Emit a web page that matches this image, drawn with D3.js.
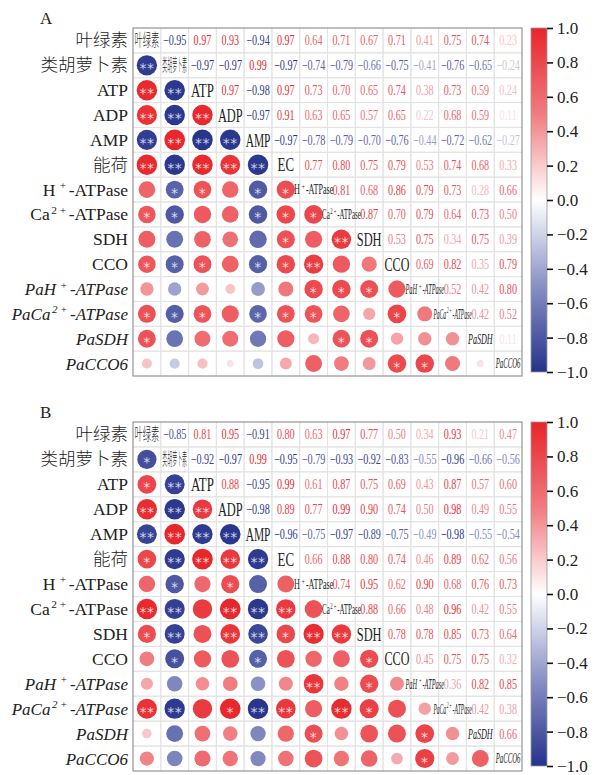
<!DOCTYPE html>
<html>
<head>
<meta charset="utf-8">
<script src="https://cdn.jsdelivr.net/npm/d3@7"></script>
<style>
  body { margin: 0; background: #fff; }
  text { font-family: "Liberation Serif", "Times New Roman", "Noto Sans CJK SC", serif; fill: #222; }
</style>
</head>
<body>
<svg id="chart" width="600" height="775"></svg>
<script>
// variable names; {..} marks a superscript
const labels = ['叶绿素', '类胡萝卜素', 'ATP', 'ADP', 'AMP', '能荷', 'H{+}-ATPase', 'Ca{2+}-ATPase',
    'SDH', 'CCO', 'PaH{+}-ATPase', 'PaCa{2+}-ATPase', 'PaSDH', 'PaCCO6'];
const diagLabels = ['叶绿素', '类胡萝卜素', 'ATP', 'ADP', 'AMP', 'EC', 'H{+}-ATPase', 'Ca{2+}-ATPase',
    'SDH', 'CCO', 'PaH{+}-ATPase', 'PaCa{2+}-ATPase', 'PaSDH', 'PaCCO6'];
const italicFrom = 10;

// upper triangle, row i holds columns i+1 .. 13
const corrA = [
    [-0.95, 0.97, 0.93, -0.94, 0.97, 0.64, 0.71, 0.67, 0.71, 0.41, 0.75, 0.74, 0.23],
    [-0.97, -0.97, 0.99, -0.97, -0.74, -0.79, -0.66, -0.75, -0.41, -0.76, -0.65, -0.24],
    [0.97, -0.98, 0.97, 0.73, 0.70, 0.65, 0.74, 0.38, 0.73, 0.59, 0.24],
    [-0.97, 0.91, 0.63, 0.65, 0.57, 0.65, 0.22, 0.68, 0.59, 0.11],
    [-0.97, -0.78, -0.79, -0.70, -0.76, -0.44, -0.72, -0.62, -0.27],
    [0.77, 0.80, 0.75, 0.79, 0.53, 0.74, 0.68, 0.33],
    [0.81, 0.68, 0.86, 0.79, 0.73, 0.28, 0.66],
    [0.87, 0.70, 0.79, 0.64, 0.73, 0.50],
    [0.53, 0.75, 0.34, 0.75, 0.39],
    [0.69, 0.82, 0.35, 0.79],
    [0.52, 0.42, 0.80],
    [0.42, 0.52],
    [0.11]
];
const corrB = [
    [-0.85, 0.81, 0.95, -0.91, 0.80, 0.63, 0.97, 0.77, 0.50, 0.34, 0.93, 0.21, 0.47],
    [-0.92, -0.97, 0.99, -0.95, -0.79, -0.93, -0.92, -0.83, -0.55, -0.96, -0.66, -0.56],
    [0.88, -0.95, 0.99, 0.61, 0.87, 0.75, 0.69, 0.43, 0.87, 0.57, 0.60],
    [-0.98, 0.89, 0.77, 0.99, 0.90, 0.74, 0.50, 0.98, 0.49, 0.55],
    [-0.96, -0.75, -0.97, -0.89, -0.75, -0.49, -0.98, -0.55, -0.54],
    [0.66, 0.88, 0.80, 0.74, 0.46, 0.89, 0.62, 0.56],
    [0.74, 0.95, 0.62, 0.90, 0.68, 0.76, 0.73],
    [0.88, 0.66, 0.48, 0.96, 0.42, 0.55],
    [0.78, 0.78, 0.85, 0.73, 0.64],
    [0.45, 0.75, 0.75, 0.32],
    [0.36, 0.82, 0.85],
    [0.42, 0.38],
    [0.66]
];

// significance marks, lower triangle, row i holds columns 0 .. i-1
const starsA = [
    [],
    ['**'],
    ['**', '**'],
    ['**', '**', '**'],
    ['**', '**', '**', '**'],
    ['**', '**', '**', '**', '**'],
    ['', '*', '*', '', '*', '*'],
    ['*', '*', '', '', '*', '*', '*'],
    ['', '', '', '', '', '*', '', '**'],
    ['*', '*', '*', '', '*', '*', '**', '', ''],
    ['', '', '', '', '', '', '*', '*', '*', ''],
    ['*', '*', '*', '', '*', '*', '*', '', '', '*', ''],
    ['*', '', '', '', '', '', '', '*', '*', '', '', ''],
    ['', '', '', '', '', '', '', '', '', '*', '*', '', '']
];
const starsB = [
    [],
    ['*'],
    ['*', '**'],
    ['**', '**', '**'],
    ['**', '**', '**', '**'],
    ['*', '**', '**', '**', '**'],
    ['', '*', '', '*', '', ''],
    ['**', '**', '', '**', '**', '**', ''],
    ['*', '**', '', '**', '**', '*', '**', '**'],
    ['', '*', '', '', '*', '', '', '', '*'],
    ['', '', '', '', '', '', '**', '', '*', ''],
    ['**', '**', '', '*', '**', '**', '', '**', '*', '', ''],
    ['', '', '', '', '', '', '*', '', '', '', '*', ''],
    ['', '', '', '', '', '', '', '', '', '', '*', '', '']
];

const colorTicks = [1.0, 0.8, 0.6, 0.4, 0.2, 0.0, -0.2, -0.4, -0.6, -0.8, -1.0];

const panels = [
    {name: 'A', corr: corrA, stars: starsA, top: 28, bottom: 376, barBottom: 372},
    {name: 'B', corr: corrB, stars: starsB, top: 422, bottom: 771, barBottom: 766}
];

const gridLeft = 133;
const gridRight = 522;
const n = labels.length;
const isCjk = s => /[\u4e00-\u9fff]/.test(s);

const svg = d3.select('#chart');

const color = d3.scaleLinear()
    .domain([-1, -0.5, 0, 0.5, 1])
    .range(['#25328b', '#8890c4', '#ffffff', '#f07c80', '#e8252a']);

const radius = d3.scaleSqrt().domain([0, 1]).range([0, 10.4]);

// full symmetric matrix from upper triangle
const fullMatrix = (upper) => {
    const m = d3.range(n).map(() => new Array(n).fill(1));
    upper.forEach((row, i) => row.forEach((v, k) => {
        const j = i + 1 + k;
        m[i][j] = v;
        m[j][i] = v;
    }));
    return m;
};

// writes a label with {..} superscripts into a text element
const writeLabel = (textSel, str, size) => {
    const parts = str.split(/\{([^}]*)\}/);
    const supSize = size * 0.65;
    const shift = size * 0.38;
    let pendingDx = 0;
    let shifted = false;
    parts.forEach((part, k) => {
        if (!part) return;
        if (k % 2 === 1) {
            // superscript, one tspan per char so '+' gets a little room
            part.split('').forEach((c, ci) => {
                const t = textSel.append('tspan').text(c).attr('font-size', supSize);
                let dx = ci === 0 ? size * 0.09 : 0;
                if (c === '+') dx += size * 0.15;
                t.attr('dx', dx);
                if (ci === 0) t.attr('dy', -shift);
                pendingDx = c === '+' ? size * 0.15 : 0;
            });
            shifted = true;
        } else {
            const t = textSel.append('tspan').text(part);
            if (shifted) {
                t.attr('dy', shift).attr('dx', pendingDx);
                shifted = false;
            }
        }
    });
};

const drawPanel = (p) => {
    const m = fullMatrix(p.corr);
    const x = d3.scaleBand().domain(d3.range(n)).range([gridLeft, gridRight]);
    const y = d3.scaleBand().domain(d3.range(n)).range([p.top, p.bottom]);
    const cw = x.bandwidth();
    const ch = y.bandwidth();

    const g = svg.append('g').attr('class', 'panel-' + p.name);

    // panel letter
    g.append('text')
        .attr('x', 40)
        .attr('y', p.top - 4)
        .attr('font-size', 17)
        .text(p.name);

    // cell grid
    const cells = [];
    d3.range(n).forEach(i => d3.range(n).forEach(j => cells.push({i, j, v: m[i][j]})));

    g.append('g').selectAll('rect')
        .data(cells)
        .join('rect')
        .attr('x', d => x(d.j))
        .attr('y', d => y(d.i))
        .attr('width', cw)
        .attr('height', ch)
        .attr('fill', 'none')
        .attr('stroke', '#e3e3e3')
        .attr('stroke-width', 1);

    g.append('rect')
        .attr('x', gridLeft)
        .attr('y', p.top)
        .attr('width', gridRight - gridLeft)
        .attr('height', p.bottom - p.top)
        .attr('fill', 'none')
        .attr('stroke', '#8c8c8c')
        .attr('stroke-width', 1);

    // row labels on the left
    labels.forEach((lab, i) => {
        const italic = i >= italicFrom;
        const size = italic ? 17 : 17.5;
        const t = g.append('text')
            .attr('x', gridLeft - 5)
            .attr('y', y(i) + ch / 2 + 6)
            .attr('text-anchor', 'end')
            .attr('font-size', size)
            .style('font-weight', isCjk(lab) ? 300 : 400)
            .attr('font-style', italic ? 'italic' : 'normal');
        writeLabel(t, lab, size);
    });

    // lower triangle: circles
    const lower = cells.filter(d => d.j < d.i);
    g.append('g').selectAll('circle')
        .data(lower)
        .join('circle')
        .attr('cx', d => x(d.j) + cw / 2)
        .attr('cy', d => y(d.i) + ch / 2)
        .attr('r', d => radius(Math.abs(d.v)))
        .attr('fill', d => color(d.v));

    g.append('g').selectAll('text')
        .data(lower.filter(d => p.stars[d.i][d.j]))
        .join('text')
        .attr('x', d => x(d.j) + cw / 2)
        .attr('y', d => y(d.i) + ch / 2 + 8)
        .attr('text-anchor', 'middle')
        .style('font-family', '"DejaVu Sans", sans-serif')
        .style('font-size', '14px')
        .style('letter-spacing', '0.5px')
        .style('fill', 'rgba(255,255,255,0.78)')
        .text(d => p.stars[d.i][d.j]);

    // upper triangle: numbers, squeezed horizontally
    const upper = cells.filter(d => d.j > d.i);
    g.append('g').selectAll('text')
        .data(upper)
        .join('text')
        .attr('transform', d => `translate(${x(d.j) + cw / 2},${y(d.i) + ch / 2 + 5}) scale(0.7,1)`)
        .attr('text-anchor', 'middle')
        .attr('font-size', 14.5)
        .style('fill', d => color(d.v))
        .text(d => d3.format('.2f')(d.v));

    // diagonal names
    diagLabels.forEach((lab, i) => {
        const cjk = isCjk(lab);
        const short = lab.length <= 3 && !cjk;
        const size = short ? 19 : (cjk ? 17 : 14);
        const cell = g.append('g');
        const t = cell.append('text')
            .attr('text-anchor', 'middle')
            .attr('y', size * 0.35)
            .attr('font-size', size)
            .style('font-weight', cjk ? 300 : 400)
            .attr('font-style', i >= italicFrom ? 'italic' : 'normal');
        writeLabel(t, lab, size);
        const w = t.node().getComputedTextLength();
        let maxW = cw - 3;
        if (/ATPase/.test(lab)) maxW = cw * 1.3;
        const sx = Math.min(0.68, maxW / w);
        cell.attr('transform', `translate(${x(i) + cw / 2},${y(i) + ch / 2}) scale(${sx},1)`);
    });

    // colour bar
    const barX = 531;
    const barW = 16;
    const gradId = 'grad-' + p.name;
    const grad = svg.append('defs').append('linearGradient')
        .attr('id', gradId)
        .attr('x1', 0).attr('y1', 1).attr('x2', 0).attr('y2', 0);
    d3.range(0, 1.0001, 0.05).forEach(t => {
        grad.append('stop')
            .attr('offset', t)
            .attr('stop-color', color(t * 2 - 1));
    });

    const cbTop = p.top;
    const cbBottom = p.barBottom;
    g.append('rect')
        .attr('x', barX)
        .attr('y', cbTop)
        .attr('width', barW)
        .attr('height', cbBottom - cbTop)
        .attr('fill', `url(#${gradId})`)
        .attr('stroke', '#999')
        .attr('stroke-width', 0.8);

    const cbScale = d3.scaleLinear().domain([-1, 1]).range([cbBottom, cbTop]);
    const axis = d3.axisRight(cbScale)
        .tickValues(colorTicks)
        .tickSize(6)
        .tickPadding(4)
        .tickFormat(d3.format('.1f'));

    const axisG = g.append('g')
        .attr('transform', `translate(${barX + barW},0)`)
        .call(axis);
    axisG.select('.domain').remove();
    axisG.selectAll('.tick line').attr('stroke', '#111').attr('stroke-width', 1.6);
    axisG.selectAll('.tick text')
        .attr('font-family', '"Liberation Serif", serif')
        .attr('font-size', 17)
        .style('fill', '#222');
};

panels.forEach(drawPanel);
</script>
</body>
</html>
